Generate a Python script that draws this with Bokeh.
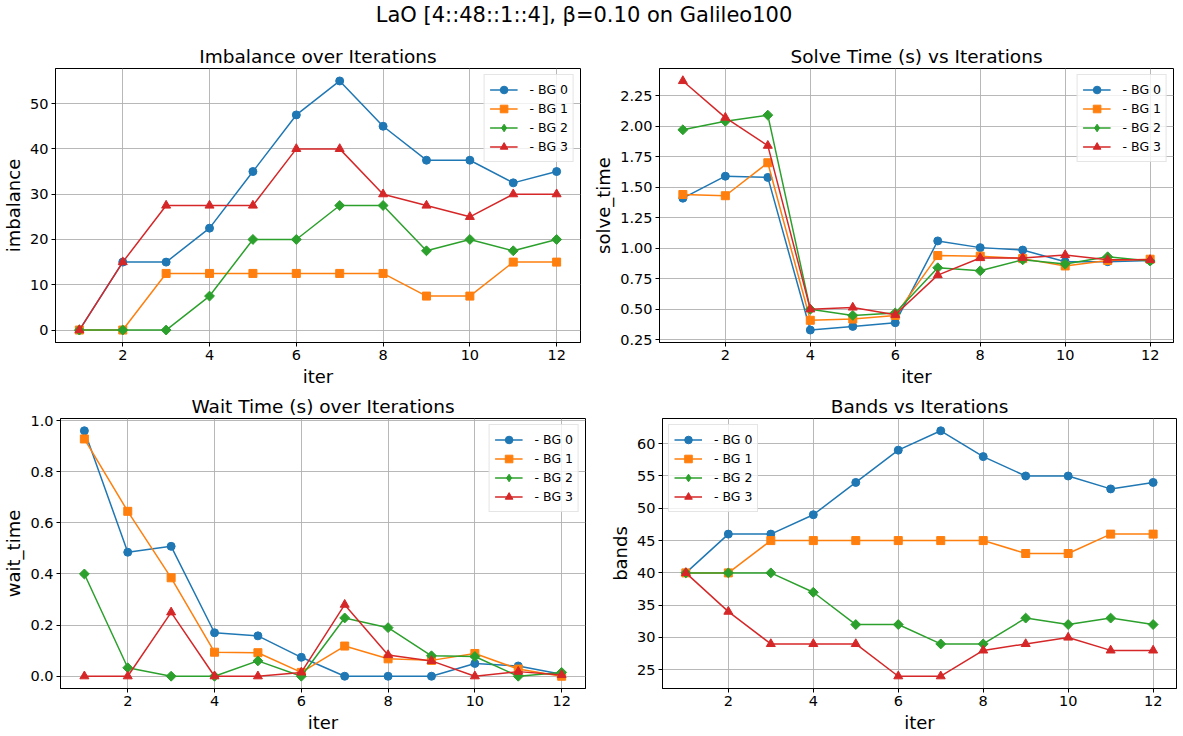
import math
from bokeh.plotting import figure
from bokeh.layouts import column, row
from bokeh.models import Range1d, FixedTicker, Legend, LegendItem
from bokeh.embed import file_html
from bokeh.resources import INLINE

iters = [1, 2, 3, 4, 5, 6, 7, 8, 9, 10, 11, 12]
labels = ["  - BG 0", "  - BG 1", "  - BG 2", "  - BG 3"]
colors = ["#1f77b4", "#ff7f0e", "#2ca02c", "#d62728"]
markers = ["circle", "square", "square", "triangle"]
legend_markers = ["circle", "square", "diamond", "triangle"]
mangles = [0, 0, math.pi / 4, 0]
msizes = [8, 8, 7, 9]

imb_bg0 = [0, 15, 15, 22.5, 35, 47.5, 55, 45, 37.5, 37.5, 32.5, 35]
imb_bg1 = [0, 0, 12.5, 12.5, 12.5, 12.5, 12.5, 12.5, 7.5, 7.5, 15, 15]
imb_bg2 = [0, 0, 0, 7.5, 20, 20, 27.5, 27.5, 17.5, 20, 17.5, 20]
imb_bg3 = [0, 15, 27.5, 27.5, 27.5, 40, 40, 30, 27.5, 25, 30, 30]

solve_bg0 = [1.41, 1.59, 1.58, 0.33, 0.36, 0.39, 1.06, 1.005, 0.985, 0.89, 0.89, 0.90]
solve_bg1 = [1.44, 1.43, 1.70, 0.41, 0.42, 0.45, 0.94, 0.935, 0.915, 0.855, 0.90, 0.91]
solve_bg2 = [1.97, 2.04, 2.09, 0.50, 0.45, 0.47, 0.84, 0.815, 0.905, 0.87, 0.93, 0.895]
solve_bg3 = [2.37, 2.07, 1.84, 0.50, 0.515, 0.455, 0.78, 0.92, 0.92, 0.945, 0.905, 0.905]

wait_bg0 = [0.96, 0.485, 0.508, 0.17, 0.158, 0.074, 0.0, 0.0, 0.0, 0.05, 0.04, 0.008]
wait_bg1 = [0.928, 0.645, 0.385, 0.094, 0.092, 0.015, 0.118, 0.068, 0.062, 0.089, 0.028, 0.0]
wait_bg2 = [0.40, 0.033, 0.0, 0.0, 0.06, 0.0, 0.228, 0.19, 0.08, 0.077, 0.0, 0.015]
wait_bg3 = [0.0, 0.0, 0.25, 0.0, 0.0, 0.015, 0.28, 0.083, 0.06, 0.0, 0.018, 0.005]

bands_bg0 = [40, 46, 46, 49, 54, 59, 62, 58, 55, 55, 53, 54]
bands_bg1 = [40, 40, 45, 45, 45, 45, 45, 45, 43, 43, 46, 46]
bands_bg2 = [40, 40, 40, 37, 32, 32, 29, 29, 33, 32, 33, 32]
bands_bg3 = [40, 34, 29, 29, 29, 24, 24, 28, 29, 30, 28, 28]

x_ticks = [2, 4, 6, 8, 10, 12]
imb_ticks = [0, 10, 20, 30, 40, 50]
solve_ticks = [0.25, 0.5, 0.75, 1.0, 1.25, 1.5, 1.75, 2.0, 2.25]
wait_ticks = [0.0, 0.2, 0.4, 0.6, 0.8, 1.0]
bands_ticks = [25, 30, 35, 40, 45, 50, 55, 60]

FONT = "DejaVu Sans"


def make_fig(title, ylabel, series, yticks, yfmt, mb_left, mb_right, fh, fw, mb_bottom, legend_loc):
    allv = [v for s in series for v in s]
    lo, hi = min(allv), max(allv)
    pad = (hi - lo) * 0.05
    xpad = (max(iters) - min(iters)) * 0.05
    p = figure(output_backend="svg", toolbar_location=None,
               frame_width=fw, frame_height=fh,
               x_range=Range1d(min(iters) - xpad, max(iters) + xpad),
               y_range=Range1d(lo - pad, hi + pad),
               min_border_left=mb_left, min_border_right=mb_right,
               min_border_top=28, min_border_bottom=mb_bottom)
    p.title.text = title
    p.title.align = "center"
    p.title.text_font = FONT
    p.title.text_font_size = "18.5px"
    p.title.text_font_style = "normal"
    p.title.text_color = "black"
    p.title.offset = 0
    p.title.standoff = 3
    items = []
    nan = float("nan")
    for i, s in enumerate(series):
        r1 = p.line(iters, s, line_color=colors[i], line_width=1.5)
        p.scatter(iters, s, marker=markers[i], size=msizes[i], angle=mangles[i],
                  fill_color=colors[i], line_color=colors[i])
        # legend-only marker (placed at NaN, draws nothing in the plot area)
        r3 = p.scatter([nan], [nan], marker=legend_markers[i], size=8,
                       fill_color=colors[i], line_color=colors[i])
        items.append(LegendItem(label=labels[i], renderers=[r1, r3]))
    leg = Legend(items=items, location=legend_loc)
    leg.label_text_font = FONT
    leg.label_text_font_size = "12.5px"
    leg.label_text_color = "black"
    leg.glyph_width = 28
    leg.glyph_height = 19
    leg.spacing = 0
    leg.padding = 5
    leg.margin = 6
    leg.label_standoff = 4
    leg.label_height = 14
    leg.border_line_color = "#cccccc"
    leg.border_line_width = 1
    leg.background_fill_alpha = 0.8
    p.add_layout(leg)

    p.xaxis.axis_label = "iter"
    p.yaxis.axis_label = ylabel
    for ax in (p.xaxis, p.yaxis):
        ax.axis_label_text_font = FONT
        ax.axis_label_text_font_size = "18px"
        ax.axis_label_text_font_style = "normal"
        ax.major_label_text_font = FONT
        ax.major_label_text_font_size = "14.5px"
        ax.major_tick_in = 0
        ax.major_tick_out = 4
        ax.minor_tick_line_color = None
        ax.axis_line_color = "black"
        ax.major_tick_line_color = "black"
        ax.major_label_text_color = "black"
        ax.axis_label_text_color = "black"
        ax.axis_label_standoff = 3
        ax.major_label_standoff = 3
    p.xaxis.ticker = FixedTicker(ticks=x_ticks)
    p.yaxis.ticker = FixedTicker(ticks=yticks)
    p.yaxis.major_label_overrides = {t: (yfmt % t) for t in yticks}
    p.grid.grid_line_color = "#b0b0b0"
    p.grid.grid_line_width = 1
    p.grid.grid_line_alpha = 0.9
    p.outline_line_color = "black"
    p.outline_line_width = 1
    p.outline_line_alpha = 1
    return p


f1 = make_fig("Imbalance over Iterations", "imbalance",
              [imb_bg0, imb_bg1, imb_bg2, imb_bg3], imb_ticks, "%d",
              50, 10, 274, 525, 48, "top_right")
f2 = make_fig("Solve Time (s) vs Iterations", "solve_time",
              [solve_bg0, solve_bg1, solve_bg2, solve_bg3], solve_ticks, "%.2f",
              67, 1, 274, 514, 48, "top_right")
f3 = make_fig("Wait Time (s) over Iterations", "wait_time",
              [wait_bg0, wait_bg1, wait_bg2, wait_bg3], wait_ticks, "%.1f",
              50, 10, 270, 525, 30, "top_right")
f4 = make_fig("Bands vs Iterations", "bands",
              [bands_bg0, bands_bg1, bands_bg2, bands_bg3], bands_ticks, "%d",
              67, 1, 270, 514, 30, "top_left")

sup = figure(output_backend="svg", toolbar_location=None, width=1167, height=40,
             x_axis_type=None, y_axis_type=None, min_border=0,
             x_range=Range1d(0, 1), y_range=Range1d(0, 1))
sup.outline_line_color = None
sup.grid.visible = False
sup.title.text = "LaO [4::48::1::4], β=0.10 on Galileo100"
sup.title.align = "center"
sup.title.text_font = FONT
sup.title.text_font_size = "21px"
sup.title.text_font_style = "normal"
sup.title.text_color = "black"
sup.title.offset = 0
sup.title.standoff = 0

layout = column(sup, row(f1, f2, spacing=0), row(f3, f4, spacing=0), spacing=0)

open("out.html", "w").write(file_html(layout, INLINE))
